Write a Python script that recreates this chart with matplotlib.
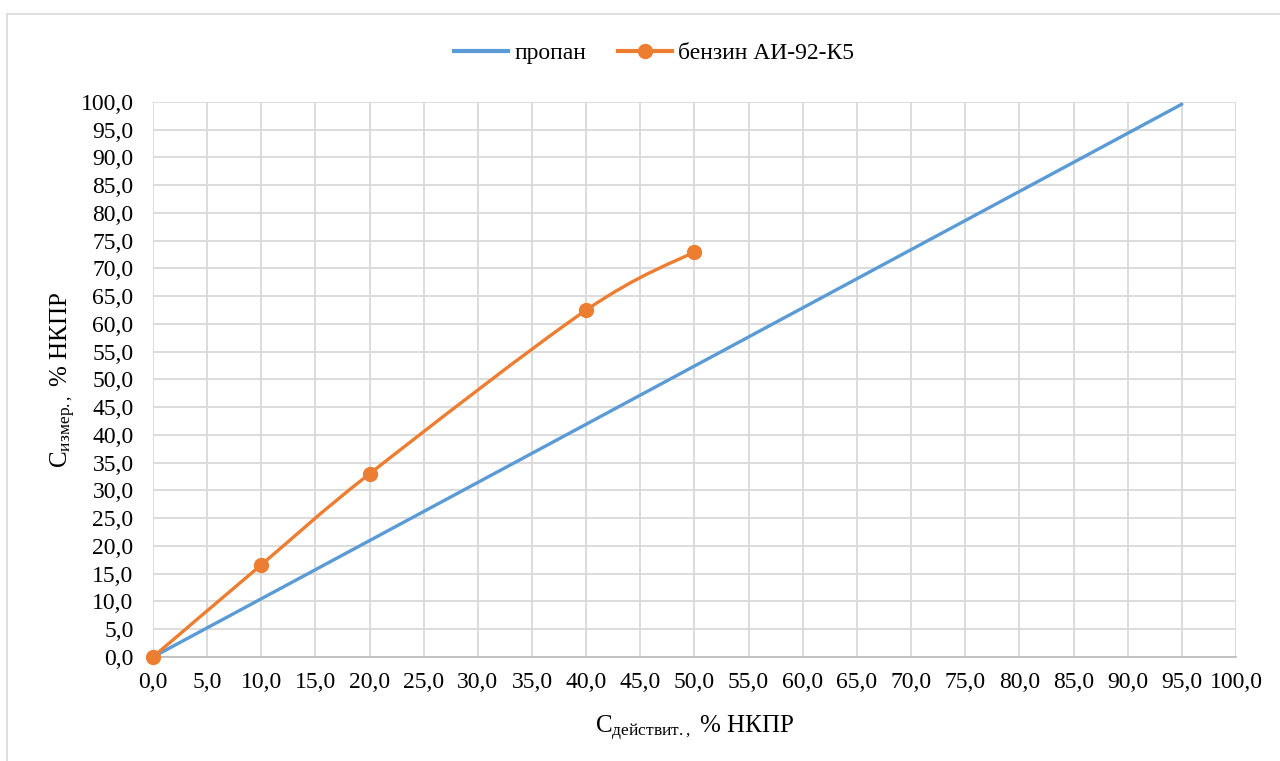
import matplotlib
matplotlib.use('Agg')
import matplotlib.pyplot as plt
from matplotlib.path import Path
from matplotlib.patches import PathPatch
from matplotlib.lines import Line2D
from matplotlib.ticker import MultipleLocator, FuncFormatter

# data
propane_x = [0.0, 95.0]
propane_y = [0.0, 99.6]
petrol_x = [0.0, 10.0, 20.0, 40.0, 50.0]
petrol_y = [0.0, 16.6, 33.0, 62.5, 73.0]
label_propane = 'пропан'
label_petrol = 'бензин АИ-92-К5'

BLUE = '#5B9BD5'
ORANGE = '#ED7D31'

plt.rcParams['font.family'] = 'serif'
plt.rcParams['font.serif'] = ['Liberation Serif', 'DejaVu Serif']
plt.rcParams['mathtext.fontset'] = 'custom'
plt.rcParams['mathtext.rm'] = 'Liberation Serif'
plt.rcParams['mathtext.it'] = 'Liberation Serif'


def smooth_path(xs, ys):
    # excel-like smoothed line: bezier segments with catmull-rom control points
    pts = list(zip(xs, ys))
    verts = [pts[0]]
    codes = [Path.MOVETO]
    n = len(pts)
    for i in range(n - 1):
        p0 = pts[i - 1] if i > 0 else pts[i]
        p1 = pts[i]
        p2 = pts[i + 1]
        p3 = pts[i + 2] if i + 2 < n else pts[i + 1]
        c1 = (p1[0] + (p2[0] - p0[0]) / 6, p1[1] + (p2[1] - p0[1]) / 6)
        c2 = (p2[0] - (p3[0] - p1[0]) / 6, p2[1] - (p3[1] - p1[1]) / 6)
        verts += [c1, c2, p2]
        codes += [Path.CURVE4] * 3
    return Path(verts, codes)


fig = plt.figure(figsize=(12.8, 7.61), dpi=100)
ax = fig.add_axes([0.1195, 0.1367, 0.8461, 0.7293])

ax.plot(propane_x, propane_y, color=BLUE, lw=2.4, solid_capstyle='round', zorder=3)
ax.add_patch(PathPatch(smooth_path(petrol_x, petrol_y), fill=False, edgecolor=ORANGE,
                       lw=2.4, capstyle='round', zorder=4))
ax.plot(petrol_x, petrol_y, 'o', color=ORANGE, ms=10, zorder=5, clip_on=False)

ax.set_xlim(0, 100)
ax.set_ylim(0, 100)
ax.xaxis.set_major_locator(MultipleLocator(5))
ax.yaxis.set_major_locator(MultipleLocator(5))
fmt = FuncFormatter(lambda v, p: f'{v:.1f}'.replace('.', ','))
ax.xaxis.set_major_formatter(fmt)
ax.yaxis.set_major_formatter(fmt)
ax.tick_params(length=0, labelsize=17, colors='black')
ax.tick_params(axis='x', pad=11)
ax.tick_params(axis='y', pad=14)
ax.grid(True, color='#d9d9d9', lw=1.3)
ax.set_axisbelow(True)
for s in ['top', 'right', 'left']:
    ax.spines[s].set_visible(False)
ax.spines['bottom'].set_color('#bfbfbf')
ax.spines['bottom'].set_linewidth(1.3)

ax.set_xlabel('C$_{\\mathregular{действит.,}}$ % НКПР', fontsize=18, labelpad=15)
ax.set_ylabel('C$_{\\mathregular{измер.,}}$ % НКПР', fontsize=18, labelpad=2)

handles = [Line2D([], [], color=BLUE, lw=3),
           Line2D([], [], color=ORANGE, lw=3, marker='o', ms=10)]
fig.legend(handles, [label_propane, label_petrol], loc='center', ncol=2,
           bbox_to_anchor=(0.511, 0.93), frameon=False, fontsize=17,
           handlelength=2.3, handletextpad=0.25, columnspacing=1.35)

# chart area frame
fig.add_artist(Line2D([7 / 1280, 7 / 1280], [0, 1 - 14 / 761], color='#d9d9d9', lw=1.2))
fig.add_artist(Line2D([7 / 1280, 1], [1 - 14 / 761, 1 - 14 / 761], color='#d9d9d9', lw=1.2))

fig.savefig('out.png', dpi=100)
